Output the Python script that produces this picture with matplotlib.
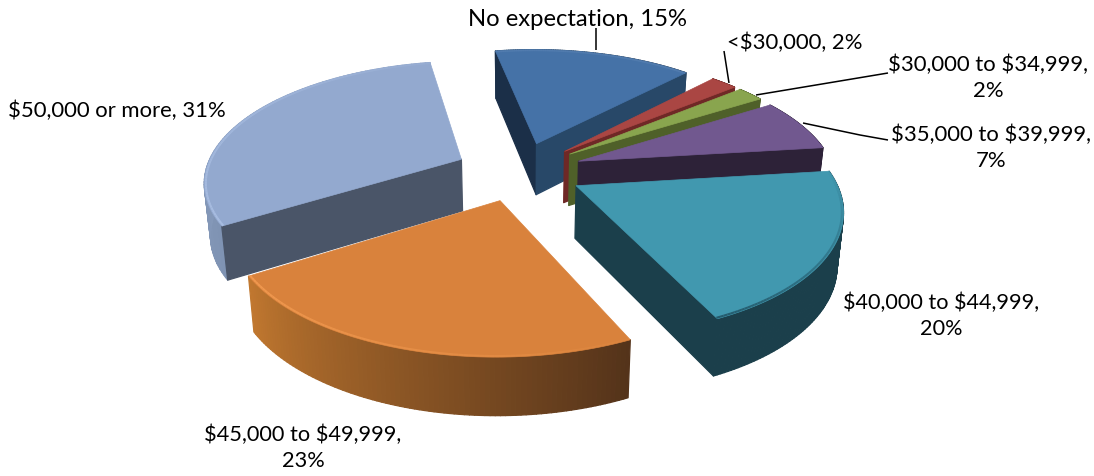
import numpy as np
import matplotlib
matplotlib.use("Agg")
import matplotlib.pyplot as plt
from matplotlib.colors import to_rgb, to_rgba
from matplotlib.collections import LineCollection

categories = ["No expectation", "<$30,000", "$30,000 to $34,999", "$35,000 to $39,999",
              "$40,000 to $44,999", "$45,000 to $49,999", "$50,000 or more"]
shares = [15, 2, 2, 7, 20, 23, 31]

# style per slice: top, start face, end face, wall ends, rim
tops = ["#4572a7", "#aa4643", "#89a54e", "#71588f", "#4198af", "#d9823c", "#93a9cf"]
face0 = ["#1b2f48", "#6f2826", "#4f6029", "#2d2238", "#1b3f4b", "#54331a", "#4a5568"]
face1 = ["#284868", "#6f2826", "#4f6029", "#2d2238", "#1b3f4b", "#c0772f", "#8097bb"]
wall0 = ["#284868", "#6f2826", "#4f6029", "#2d2238", "#1b3f4b", "#54331a", "#7f93b3"]
wall1 = ["#1b2f48", "#6f2826", "#4f6029", "#2d2238", "#1b3f4b", "#c0772f", "#93a7c9"]
rims = ["#6d92c0", "#b4524e", "#94b058", "#7c62a0", "#23586a", "#f29a50", "#a9bee2"]
rim_a0 = [0.3, 0.2, 0.2, 0.2, 0.0, 0.1, 0.95]
rim_a1 = [0.3, 0.2, 0.2, 0.2, 0.95, 0.95, 0.2]
draw_order = [0, 1, 2, 3, 6, 4, 5]

ROT, EXPL = -10.5, 0.25
CX, CY, A, B, P, H, SHRINK = 519, 171, 256, 118.5, 0.17, 52, 0.02

fig = plt.figure(figsize=(10.94, 4.76), dpi=100)
ax = fig.add_axes([0, 0, 1, 1])
ax.set_xlim(0, 1094)
ax.set_ylim(476, 0)
ax.axis("off")


def proj(u, v, z=0.0):
    d = 1 + P * v
    s = 1 - SHRINK * z
    return CX + A * u / d * s, CY - B * v / d + H * z / np.sqrt(d)


def fill(xs, ys, c):
    ax.fill(xs, ys, facecolor=c, edgecolor=c, lw=0.9, joinstyle="round")


edges = np.cumsum([0] + shares) * 3.6 + ROT
for i in draw_order:
    t0, t1 = edges[i], edges[i + 1]
    mid = np.radians((t0 + t1) / 2)
    au, av = EXPL * np.sin(mid), EXPL * np.cos(mid)
    th = np.radians(np.linspace(t0, t1, 90))
    us, vs = au + np.sin(th), av + np.cos(th)
    ax0, ay0 = proj(au, av)
    # outer wall with gradient along the arc
    c0, c1 = np.array(to_rgb(wall0[i])), np.array(to_rgb(wall1[i]))
    for k in range(len(th) - 1):
        f = k / (len(th) - 2)
        p = [proj(us[k], vs[k]), proj(us[k + 1], vs[k + 1]),
             proj(us[k + 1], vs[k + 1], 1), proj(us[k], vs[k], 1)]
        fill([q[0] for q in p], [q[1] for q in p], tuple(c0 + (c1 - c0) * f))
    # radial faces, only when they look towards the viewer
    mx, my = proj(au + np.sin(mid), av + np.cos(mid))
    for ang, col in ((th[0], face0[i]), (th[-1], face1[i])):
        eu, ev = au + np.sin(ang), av + np.cos(ang)
        ex, ey = proj(eu, ev)
        side_down = ex - ax0
        side_top = (ex - ax0) * (my - ay0) - (ey - ay0) * (mx - ax0)
        if side_down * side_top < 0:
            p = [proj(au, av), proj(eu, ev), proj(eu, ev, 1), proj(au, av, 1)]
            fill([q[0] for q in p], [q[1] for q in p], col)
    # top
    xr, yr = proj(us, vs)
    ax.fill(np.r_[ax0, xr], np.r_[ay0, yr], facecolor=tops[i], edgecolor=tops[i], lw=0.5)
    # soft bevel along the rim
    xi, yi = proj(au + 0.994 * np.sin(th), av + 0.994 * np.cos(th))
    segs = [[(xi[k], yi[k]), (xi[k + 1], yi[k + 1])] for k in range(len(th) - 1)]
    alphas = np.linspace(rim_a0[i], rim_a1[i], len(segs))
    cols = [to_rgba(rims[i], a) for a in alphas]
    ax.add_collection(LineCollection(segs, colors=cols, linewidths=1.5, capstyle="butt"))

# leader lines
leaders = [([596, 596], [28, 50]),
           ([724, 729], [51, 83]),
           ([888, 756], [73, 95]),
           ([888, 860, 803], [140, 135, 123])]
for xs, ys in leaders:
    ax.plot(xs, ys, color="black", lw=1.1, solid_capstyle="butt")

font = dict(family="Lato", color="black", ha="center", va="center",
            linespacing=1.35, parse_math=False)
labels = [(578, 19, 17.2, f"{categories[0]}, {shares[0]}%"),
          (795, 43, 15.9, f"{categories[1]}, {shares[1]}%"),
          (988, 78, 15.9, f"{categories[2]},\n{shares[2]}%"),
          (991, 148, 15.9, f"{categories[3]},\n{shares[3]}%"),
          (941, 316, 15.6, f"{categories[4]},\n{shares[4]}%"),
          (303, 448, 15.7, f"{categories[5]},\n{shares[5]}%"),
          (117, 111, 15.9, f"{categories[6]}, {shares[6]}%")]
for x, y, size, s in labels:
    ax.text(x, y, s, fontsize=size, **font)

fig.savefig("out.png", dpi=100)
